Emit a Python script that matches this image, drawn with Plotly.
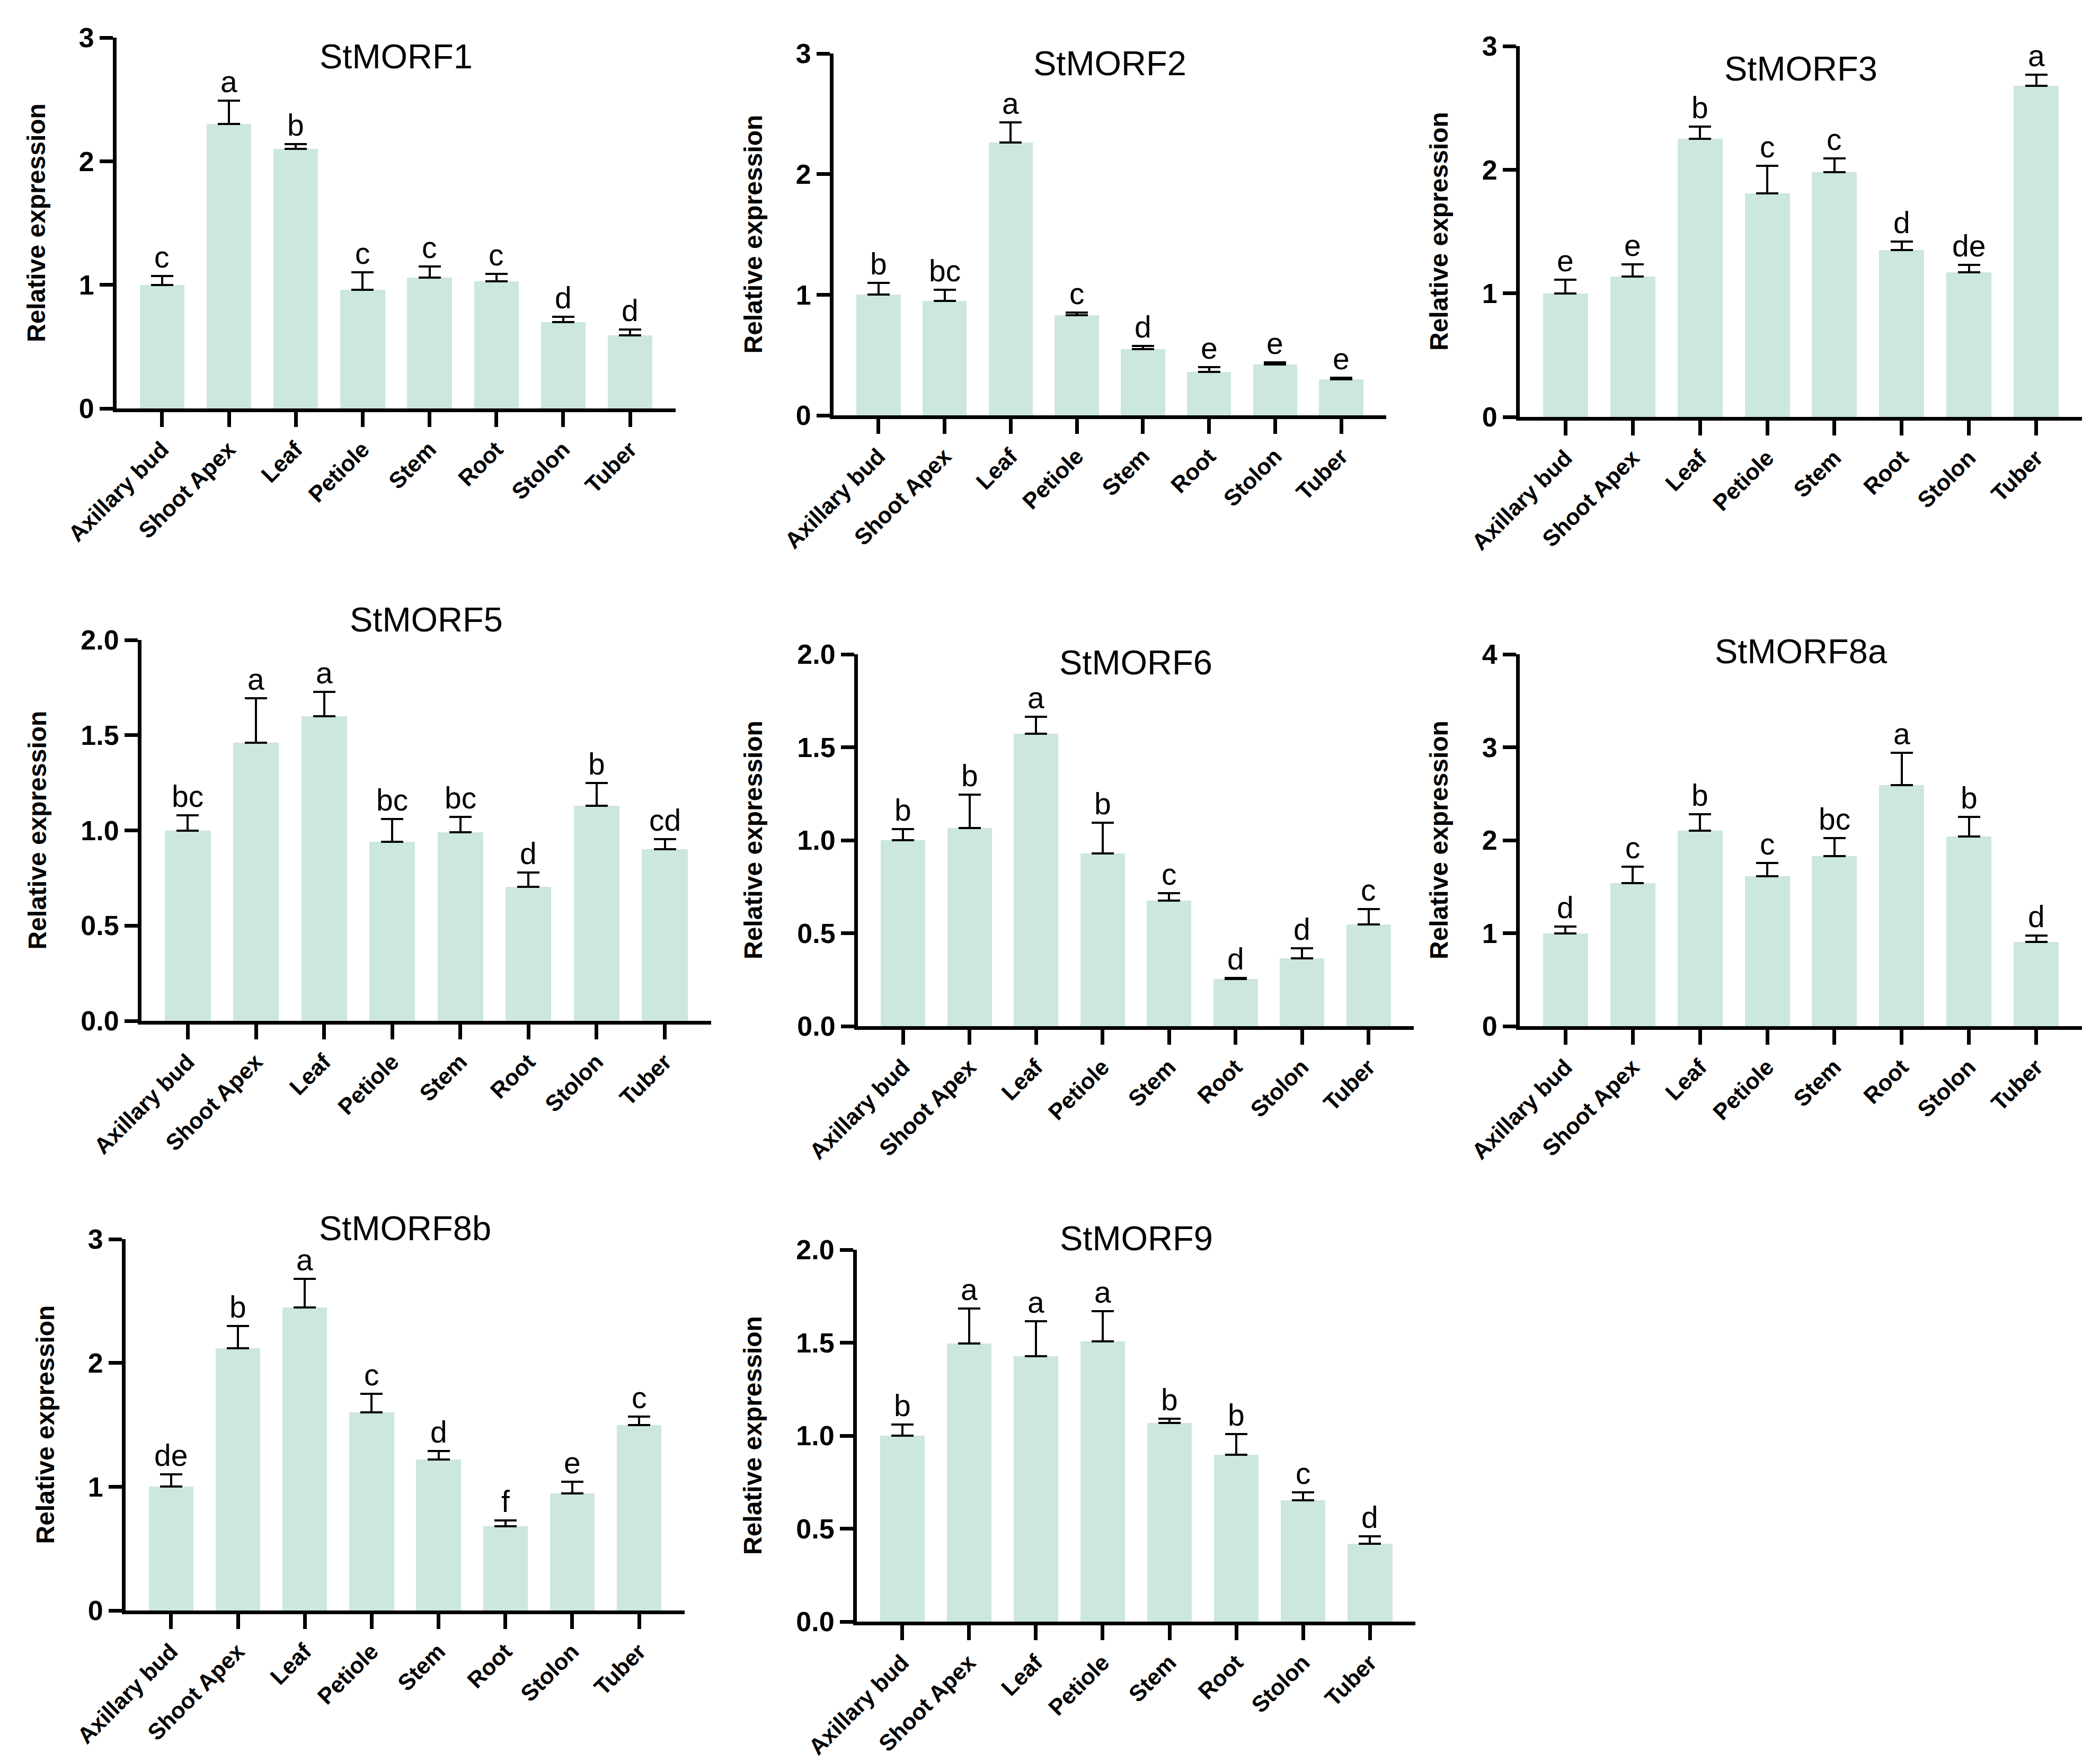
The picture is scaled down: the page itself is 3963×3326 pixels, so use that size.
import plotly.graph_objects as go

# ---------------- data ----------------
categories = ["Axillary bud", "Shoot Apex", "Leaf", "Petiole", "Stem", "Root", "Stolon", "Tuber"]
genes = ["StMORF1", "StMORF2", "StMORF3", "StMORF5", "StMORF6", "StMORF8a", "StMORF8b", "StMORF9"]

morf1_mean = [1.00, 2.30, 2.10, 0.96, 1.06, 1.03, 0.70, 0.59]
morf1_err = [0.07, 0.19, 0.04, 0.14, 0.09, 0.06, 0.04, 0.05]
morf1_letters = ["c", "a", "b", "c", "c", "c", "d", "d"]

morf2_mean = [1.00, 0.95, 2.26, 0.83, 0.55, 0.36, 0.42, 0.30]
morf2_err = [0.10, 0.09, 0.17, 0.02, 0.025, 0.04, 0.02, 0.01]
morf2_letters = ["b", "bc", "a", "c", "d", "e", "e", "e"]

morf3_mean = [1.00, 1.135, 2.25, 1.81, 1.98, 1.35, 1.17, 2.68]
morf3_err = [0.11, 0.10, 0.10, 0.22, 0.11, 0.07, 0.06, 0.09]
morf3_letters = ["e", "e", "b", "c", "c", "d", "de", "a"]

morf5_mean = [1.00, 1.46, 1.60, 0.94, 0.99, 0.705, 1.13, 0.90]
morf5_err = [0.08, 0.235, 0.127, 0.12, 0.08, 0.075, 0.12, 0.055]
morf5_letters = ["bc", "a", "a", "bc", "bc", "d", "b", "cd"]

morf6_mean = [1.00, 1.066, 1.574, 0.93, 0.676, 0.254, 0.365, 0.548]
morf6_err = [0.06, 0.18, 0.09, 0.165, 0.04, 0.006, 0.055, 0.082]
morf6_letters = ["b", "b", "a", "b", "c", "d", "d", "c"]

morf8a_mean = [1.00, 1.54, 2.10, 1.61, 1.83, 2.59, 2.04, 0.905]
morf8a_err = [0.07, 0.175, 0.18, 0.145, 0.19, 0.35, 0.21, 0.07]
morf8a_letters = ["d", "c", "b", "c", "bc", "a", "b", "d"]

morf8b_mean = [1.00, 2.12, 2.45, 1.60, 1.22, 0.68, 0.944, 1.50]
morf8b_err = [0.10, 0.18, 0.23, 0.15, 0.07, 0.047, 0.094, 0.065]
morf8b_letters = ["de", "b", "a", "c", "d", "f", "e", "c"]

morf9_mean = [1.00, 1.495, 1.426, 1.507, 1.067, 0.898, 0.653, 0.42]
morf9_err = [0.06, 0.19, 0.19, 0.163, 0.023, 0.11, 0.042, 0.039]
morf9_letters = ["b", "a", "a", "a", "b", "b", "c", "d"]

y_max = [3, 3, 3, 2, 2, 4, 3, 2]
y_dtick = [1, 1, 1, 0.5, 0.5, 1, 1, 0.5]

means = [morf1_mean, morf2_mean, morf3_mean, morf5_mean, morf6_mean, morf8a_mean, morf8b_mean, morf9_mean]
errs = [morf1_err, morf2_err, morf3_err, morf5_err, morf6_err, morf8a_err, morf8b_err, morf9_err]
letters = [morf1_letters, morf2_letters, morf3_letters, morf5_letters, morf6_letters,
           morf8a_letters, morf8b_letters, morf9_letters]

# ---------------- layout (pixels) ----------------
W, H = 3963, 3326
# [x_left, x_right, y_top, y_bottom] of each plot area
boxes = [
    (212, 1267, 63, 763),
    (1565, 2608, 93, 776),
    (2860, 3921, 79, 779),
    (259, 1334, 1200, 1919),
    (1611, 2660, 1227, 1929),
    (2860, 3921, 1227, 1929),
    (229, 1284, 2331, 3032),
    (1609, 2663, 2351, 3053),
]
title_y = [99, 111, 121, 1161, 1242, 1222, 2310, 2329]

BAR = "#cce7dc"
FONT = "Liberation Sans, Arial, sans-serif"

fig = go.Figure()
annotations = []
layout_axes = {}

for i in range(8):
    xname = "x" if i == 0 else f"x{i+1}"
    yname = "y" if i == 0 else f"y{i+1}"
    xl, xr, yt, yb = boxes[i]
    xdom = [xl / W, xr / W]
    ydom = [1 - yb / H, 1 - yt / H]
    n = len(categories)
    fig.add_trace(go.Bar(
        x=list(range(n)), y=means[i], width=0.67,
        marker=dict(color=BAR, line=dict(width=0)),
        error_y=dict(type="data", symmetric=False, array=errs[i], arrayminus=[0] * n,
                     color="black", thickness=4, width=21),
        xaxis=xname, yaxis=yname, showlegend=False, hoverinfo="skip",
    ))
    decimal = y_dtick[i] < 1
    layout_axes["xaxis" if i == 0 else f"xaxis{i+1}"] = dict(
        domain=xdom, anchor=yname, range=[-0.68, n - 1 + 0.68], automargin=False,
        tickmode="array", tickvals=list(range(n)), ticktext=categories, tickangle=-45,
        ticks="outside", ticklen=28, tickwidth=7, tickcolor="black",
        showline=True, linewidth=7, linecolor="black",
        showgrid=False, zeroline=False,
        tickfont=dict(family=FONT, size=43, color="black", weight="bold"),
    )
    layout_axes["yaxis" if i == 0 else f"yaxis{i+1}"] = dict(
        domain=ydom, anchor=xname, range=[0, y_max[i]], automargin=False,
        tick0=0, dtick=y_dtick[i], tickformat=".1f" if decimal else "d",
        ticks="outside", ticklen=25, tickwidth=7, tickcolor="black",
        showline=True, linewidth=7, linecolor="black",
        showgrid=False, zeroline=False,
        tickfont=dict(family=FONT, size=52, color="black", weight="bold"),
    )
    # significance letters
    for j in range(n):
        annotations.append(dict(
            x=j, y=means[i][j] + errs[i][j], xref=xname, yref=yname,
            text=letters[i][j], showarrow=False, yanchor="bottom", yshift=2,
            font=dict(family=FONT, size=57, color="black"),
        ))
    # panel title
    annotations.append(dict(
        x=(xl + xr) / 2 / W, y=1 - title_y[i] / H, xref="paper", yref="paper",
        text=genes[i], showarrow=False, xanchor="center", yanchor="middle",
        font=dict(family=FONT, size=65, color="black"),
    ))
    # y-axis title
    off = 197 if decimal else 152
    annotations.append(dict(
        x=(xl - off) / W, y=1 - (yt + yb) / 2 / H, xref="paper", yref="paper",
        text="Relative expression", showarrow=False, textangle=-90,
        xanchor="center", yanchor="middle",
        font=dict(family=FONT, size=48, color="black", weight="bold"),
    ))

fig.update_layout(
    width=W, height=H, margin=dict(l=0, r=0, t=0, b=0, autoexpand=False),
    paper_bgcolor="white", plot_bgcolor="white",
    bargap=0, annotations=annotations, showlegend=False,
    **layout_axes,
)

fig.write_html("out.html")
